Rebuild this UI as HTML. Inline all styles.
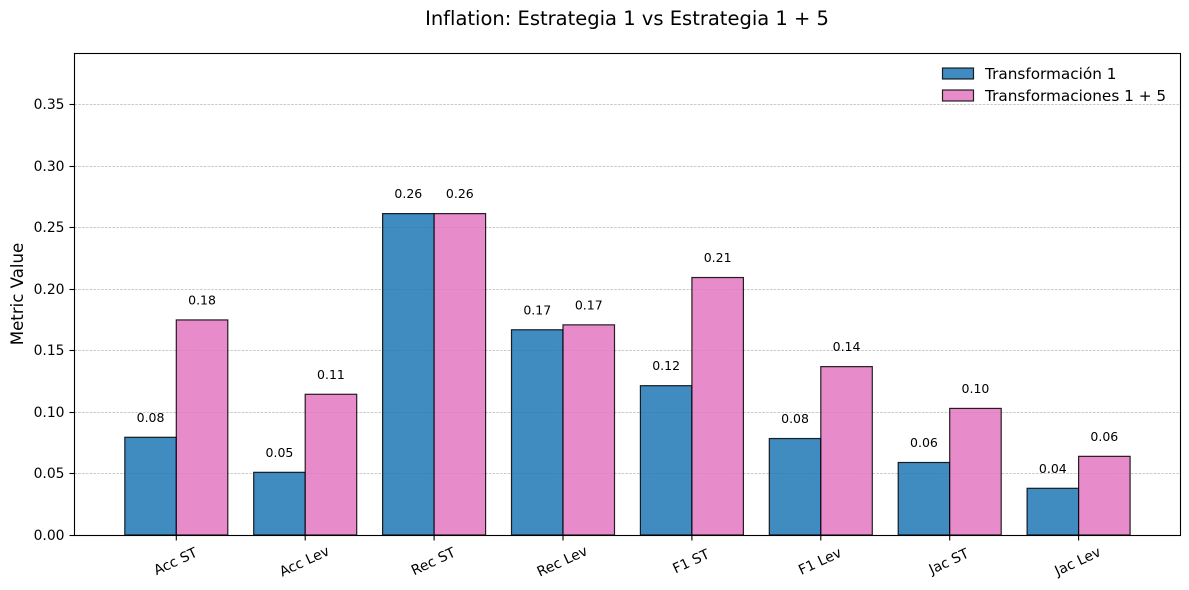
<!DOCTYPE html>
<html lang="es">
<head>
<meta charset="utf-8">
<title>Inflation: Estrategia 1 vs Estrategia 1 + 5</title>
<style>
html,body{margin:0;padding:0;background:#fff;width:1189px;height:590px;overflow:hidden}
svg{display:block}
text{font-family:"DejaVu Sans","Liberation Sans",sans-serif;fill:#000}
</style>
</head>
<body>
<svg id="chart" xmlns="http://www.w3.org/2000/svg" width="1189" height="590" viewBox="0 0 1189 590">
  <rect width="1189" height="590" fill="#fff"/>
  <text x="627" y="25" font-size="19.5" text-anchor="middle">Inflation: Estrategia 1 vs Estrategia 1 + 5</text>
  <text transform="translate(23,294) rotate(-90)" font-size="16.6" text-anchor="middle">Metric Value</text>
  <g id="grid"></g>
  <g id="bars"></g>
  <g id="labels"></g>
  <rect x="74.5" y="53.5" width="1106" height="482" fill="none" stroke="#000" stroke-width="1.1"/>
  <g id="yaxis"></g>
  <g id="xaxis"></g>
  <g>
    <g>
      <rect x="942.5" y="68" width="31" height="11" fill="#1f77b4" fill-opacity="0.85" stroke="#000" stroke-opacity="0.85" stroke-width="1.2"/>
      <text x="985" y="79" font-size="15.28">Transformación 1</text>
    </g>
    <g>
      <rect x="942.5" y="90" width="31" height="11" fill="#e377c2" fill-opacity="0.85" stroke="#000" stroke-opacity="0.85" stroke-width="1.2"/>
      <text x="985" y="101" font-size="15.28">Transformaciones 1 + 5</text>
    </g>
  </g>
</svg>
<script>
const categories = ["Acc ST", "Acc Lev", "Rec ST", "Rec Lev", "F1 ST", "F1 Lev", "Jac ST", "Jac Lev"];
const seriesT1 = [0.0795, 0.051, 0.2615, 0.167, 0.1215, 0.0785, 0.059, 0.038];
const seriesT15 = [0.175, 0.1145, 0.2615, 0.171, 0.2095, 0.137, 0.103, 0.064];
const labelsT1 = ["0.08", "0.05", "0.26", "0.17", "0.12", "0.08", "0.06", "0.04"];
const labelsT15 = ["0.18", "0.11", "0.26", "0.17", "0.21", "0.14", "0.10", "0.06"];
const yTickValues = [0, 0.05, 0.10, 0.15, 0.20, 0.25, 0.30, 0.35];
const yTickLabels = ["0.00", "0.05", "0.10", "0.15", "0.20", "0.25", "0.30", "0.35"];

const NS = "http://www.w3.org/2000/svg";
const plotBottom = 535, pxPerUnit = 1229;
const firstCenter = 176.3, step = 128.9, barWidth = 51.5;
const yScale = v => plotBottom - v * pxPerUnit;
const xScale = i => firstCenter + i * step;

function make(tag, attrs, parent, text) {
  const el = document.createElementNS(NS, tag);
  for (const k in attrs) el.setAttribute(k, attrs[k]);
  if (text !== undefined) el.textContent = text;
  parent.appendChild(el);
  return el;
}
const gridG = document.getElementById("grid");
const barsG = document.getElementById("bars");
const labelsG = document.getElementById("labels");
const yG = document.getElementById("yaxis");
const xG = document.getElementById("xaxis");

yTickValues.forEach((v, i) => {
  const y = Math.floor(yScale(v)) + 0.5;
  if (v > 0) {
    const g = make("line", {x1: 74.5, x2: 1180.5, y1: y, y2: y, stroke: "#808080", "stroke-opacity": 0.55, "stroke-width": 0.7, "stroke-dasharray": "2.6 1.2"}, gridG);
    
    
  }
  const t = make("line", {x1: 69.5, x2: 74.5, y1: y, y2: y, stroke: "#000", "stroke-width": 1.1}, yG);
  
  
  const l = make("text", {x: 64.5, y: y + 4.5, "font-size": 13.9, "text-anchor": "end"}, yG, yTickLabels[i]);
  
  
});

function drawBar(value, x, fill, label) {
  const top = yScale(value);
  const r = make("rect", {x: x, y: top, width: barWidth, height: plotBottom - top, fill: fill, "fill-opacity": 0.85, stroke: "#000", "stroke-opacity": 0.85, "stroke-width": 1.2}, barsG);
  
  
  const t = make("text", {x: x + barWidth / 2, y: top - 15.5, "font-size": 12.5, "text-anchor": "middle"}, labelsG, label);
  
  
}

categories.forEach((c, i) => {
  const cx = xScale(i);
  drawBar(seriesT1[i], cx - barWidth, "#1f77b4", labelsT1[i]);
  drawBar(seriesT15[i], cx, "#e377c2", labelsT15[i]);
  const tick = make("line", {x1: cx, x2: cx, y1: 535.5, y2: 540.5, stroke: "#000", "stroke-width": 1.1}, xG);
  
  
  const lab = make("text", {transform: "translate(" + (cx - 1) + ",561) rotate(-25)", "font-size": 13.9, "text-anchor": "middle", y: 5}, xG, c);
  
  
});
</script>
</body>
</html>
